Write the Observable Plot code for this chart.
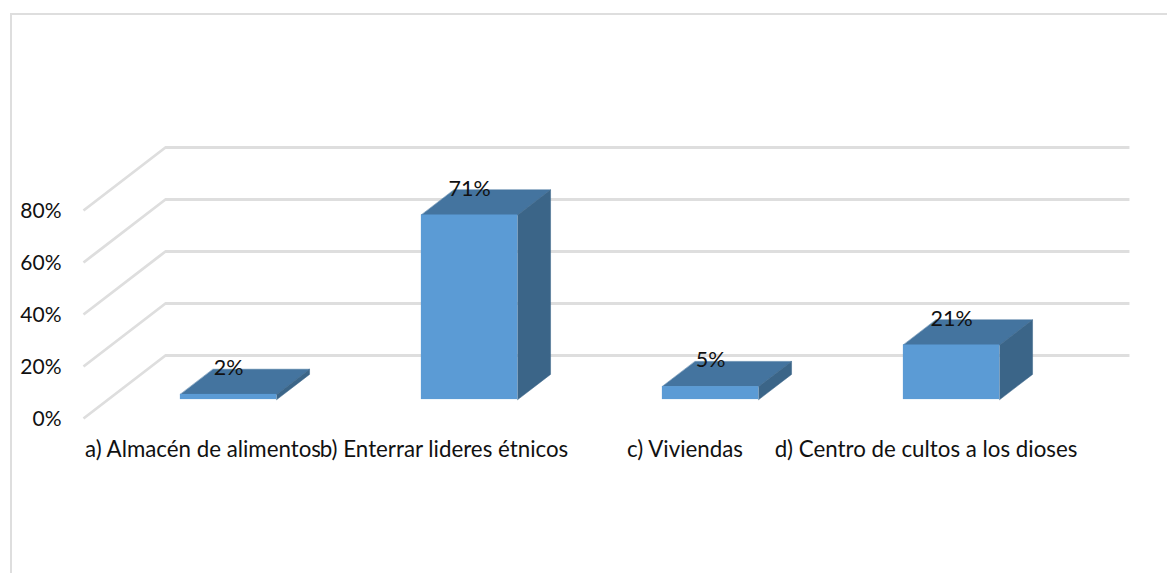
<!DOCTYPE html>
<html>
<head>
<meta charset="utf-8">
<script src="https://cdn.jsdelivr.net/npm/d3@7"></script>
<script src="https://cdn.jsdelivr.net/npm/@observablehq/plot@0.6"></script>
<style>
html,body{margin:0;padding:0;background:#fff;overflow:hidden}
#wrap{position:relative;width:1167px;height:573px}
#frame{position:absolute;left:10px;top:13px;right:0;bottom:0;border-top:2px solid #dedede;border-left:2px solid #dedede}
#chart{position:absolute;left:0;top:0}
svg{display:block}
</style>
</head>
<body>
<div id="wrap"><div id="frame"></div><div id="chart"></div></div>
<script>
const categories = ["a) Almacén de alimentos", "b) Enterrar lideres étnicos", "c) Viviendas", "d) Centro de cultos a los dioses"];
const values = [2, 71, 5, 21];
const valueLabels = ["2%", "71%", "5%", "21%"];
const gridTicks = [0, 20, 40, 60, 80];

// Oblique projection of the 3-D floor, expressed in scale units
const depthX = 0.34;   // one floor depth, in category widths
const depthY = 24.23;  // one floor depth, in percent
const barWidth = 0.4;
const barNear = 0.3, barFar = 0.7;
const px = (c, d) => c + d * depthX;
const py = (v, d) => v + d * depthY;

const gridLines = gridTicks.flatMap(t => [
  {t, x: px(0, 0), y: py(t, 0)},
  {t, x: px(0, 1), y: py(t, 1)},
  {t, x: px(4, 1), y: py(t, 1)}
]);

const bars = values.map((v, i) => ({
  i, v, label: valueLabels[i],
  left: i + 0.5 - barWidth / 2,
  right: i + 0.5 + barWidth / 2
}));

const topFace = bars.flatMap(b => [
  {i: b.i, x: px(b.left, barNear), y: py(b.v, barNear)},
  {i: b.i, x: px(b.right, barNear), y: py(b.v, barNear)},
  {i: b.i, x: px(b.right, barFar), y: py(b.v, barFar)},
  {i: b.i, x: px(b.left, barFar), y: py(b.v, barFar)}
]);
const sideFace = bars.flatMap(b => [
  {i: b.i, x: px(b.right, barNear), y: py(0, barNear)},
  {i: b.i, x: px(b.right, barFar), y: py(0, barFar)},
  {i: b.i, x: px(b.right, barFar), y: py(b.v, barFar)},
  {i: b.i, x: px(b.right, barNear), y: py(b.v, barNear)}
]);

const font = "Lato, 'Open Sans', sans-serif";

const chart = Plot.plot({
  width: 1167, height: 573,
  margin: 0,
  style: {background: "transparent", fontFamily: font},
  x: {type: "linear", domain: [-83 / 241, 1084 / 241], range: [0, 1167], axis: null},
  y: {type: "linear", domain: [-59.62, 160.77], range: [573, 0], axis: null},
  marks: [
    Plot.line(gridLines, {x: "x", y: "y", z: "t", stroke: "#dedede", strokeWidth: 2.8, strokeLinecap: "butt", strokeLinejoin: "miter", curve: "linear"}),
    Plot.line(topFace, {x: "x", y: "y", z: "i", fill: "#44749f", stroke: "#44749f", strokeWidth: 0.5, curve: "linear-closed"}),
    Plot.line(sideFace, {x: "x", y: "y", z: "i", fill: "#3b6588", stroke: "#3b6588", strokeWidth: 0.5, curve: "linear-closed"}),
    Plot.rect(bars, {
      x1: b => px(b.left, barNear), x2: b => px(b.right, barNear),
      y1: () => py(0, barNear), y2: b => py(b.v, barNear),
      fill: "#5b9bd5", inset: 0
    }),
    Plot.text(bars, {
      x: b => px(b.i + 0.5, barNear), y: b => py(b.v, barFar),
      text: "label", dy: -1, fontSize: 21.5, fill: "#111", fontFamily: font
    }),
    Plot.text(gridTicks, {
      x: () => 0, y: t => t, text: t => t + "%",
      textAnchor: "end", dx: -22, dy: 1, fontSize: 21, fill: "#111", fontFamily: font
    }),
    Plot.text(categories, {
      x: (d, i) => i + 0.5, y: () => 0, text: d => d,
      dx: -1, dy: 31, fontSize: 22.3, fill: "#111", fontFamily: font
    })
  ]
});
document.getElementById("chart").appendChild(chart);
</script>
</body>
</html>
